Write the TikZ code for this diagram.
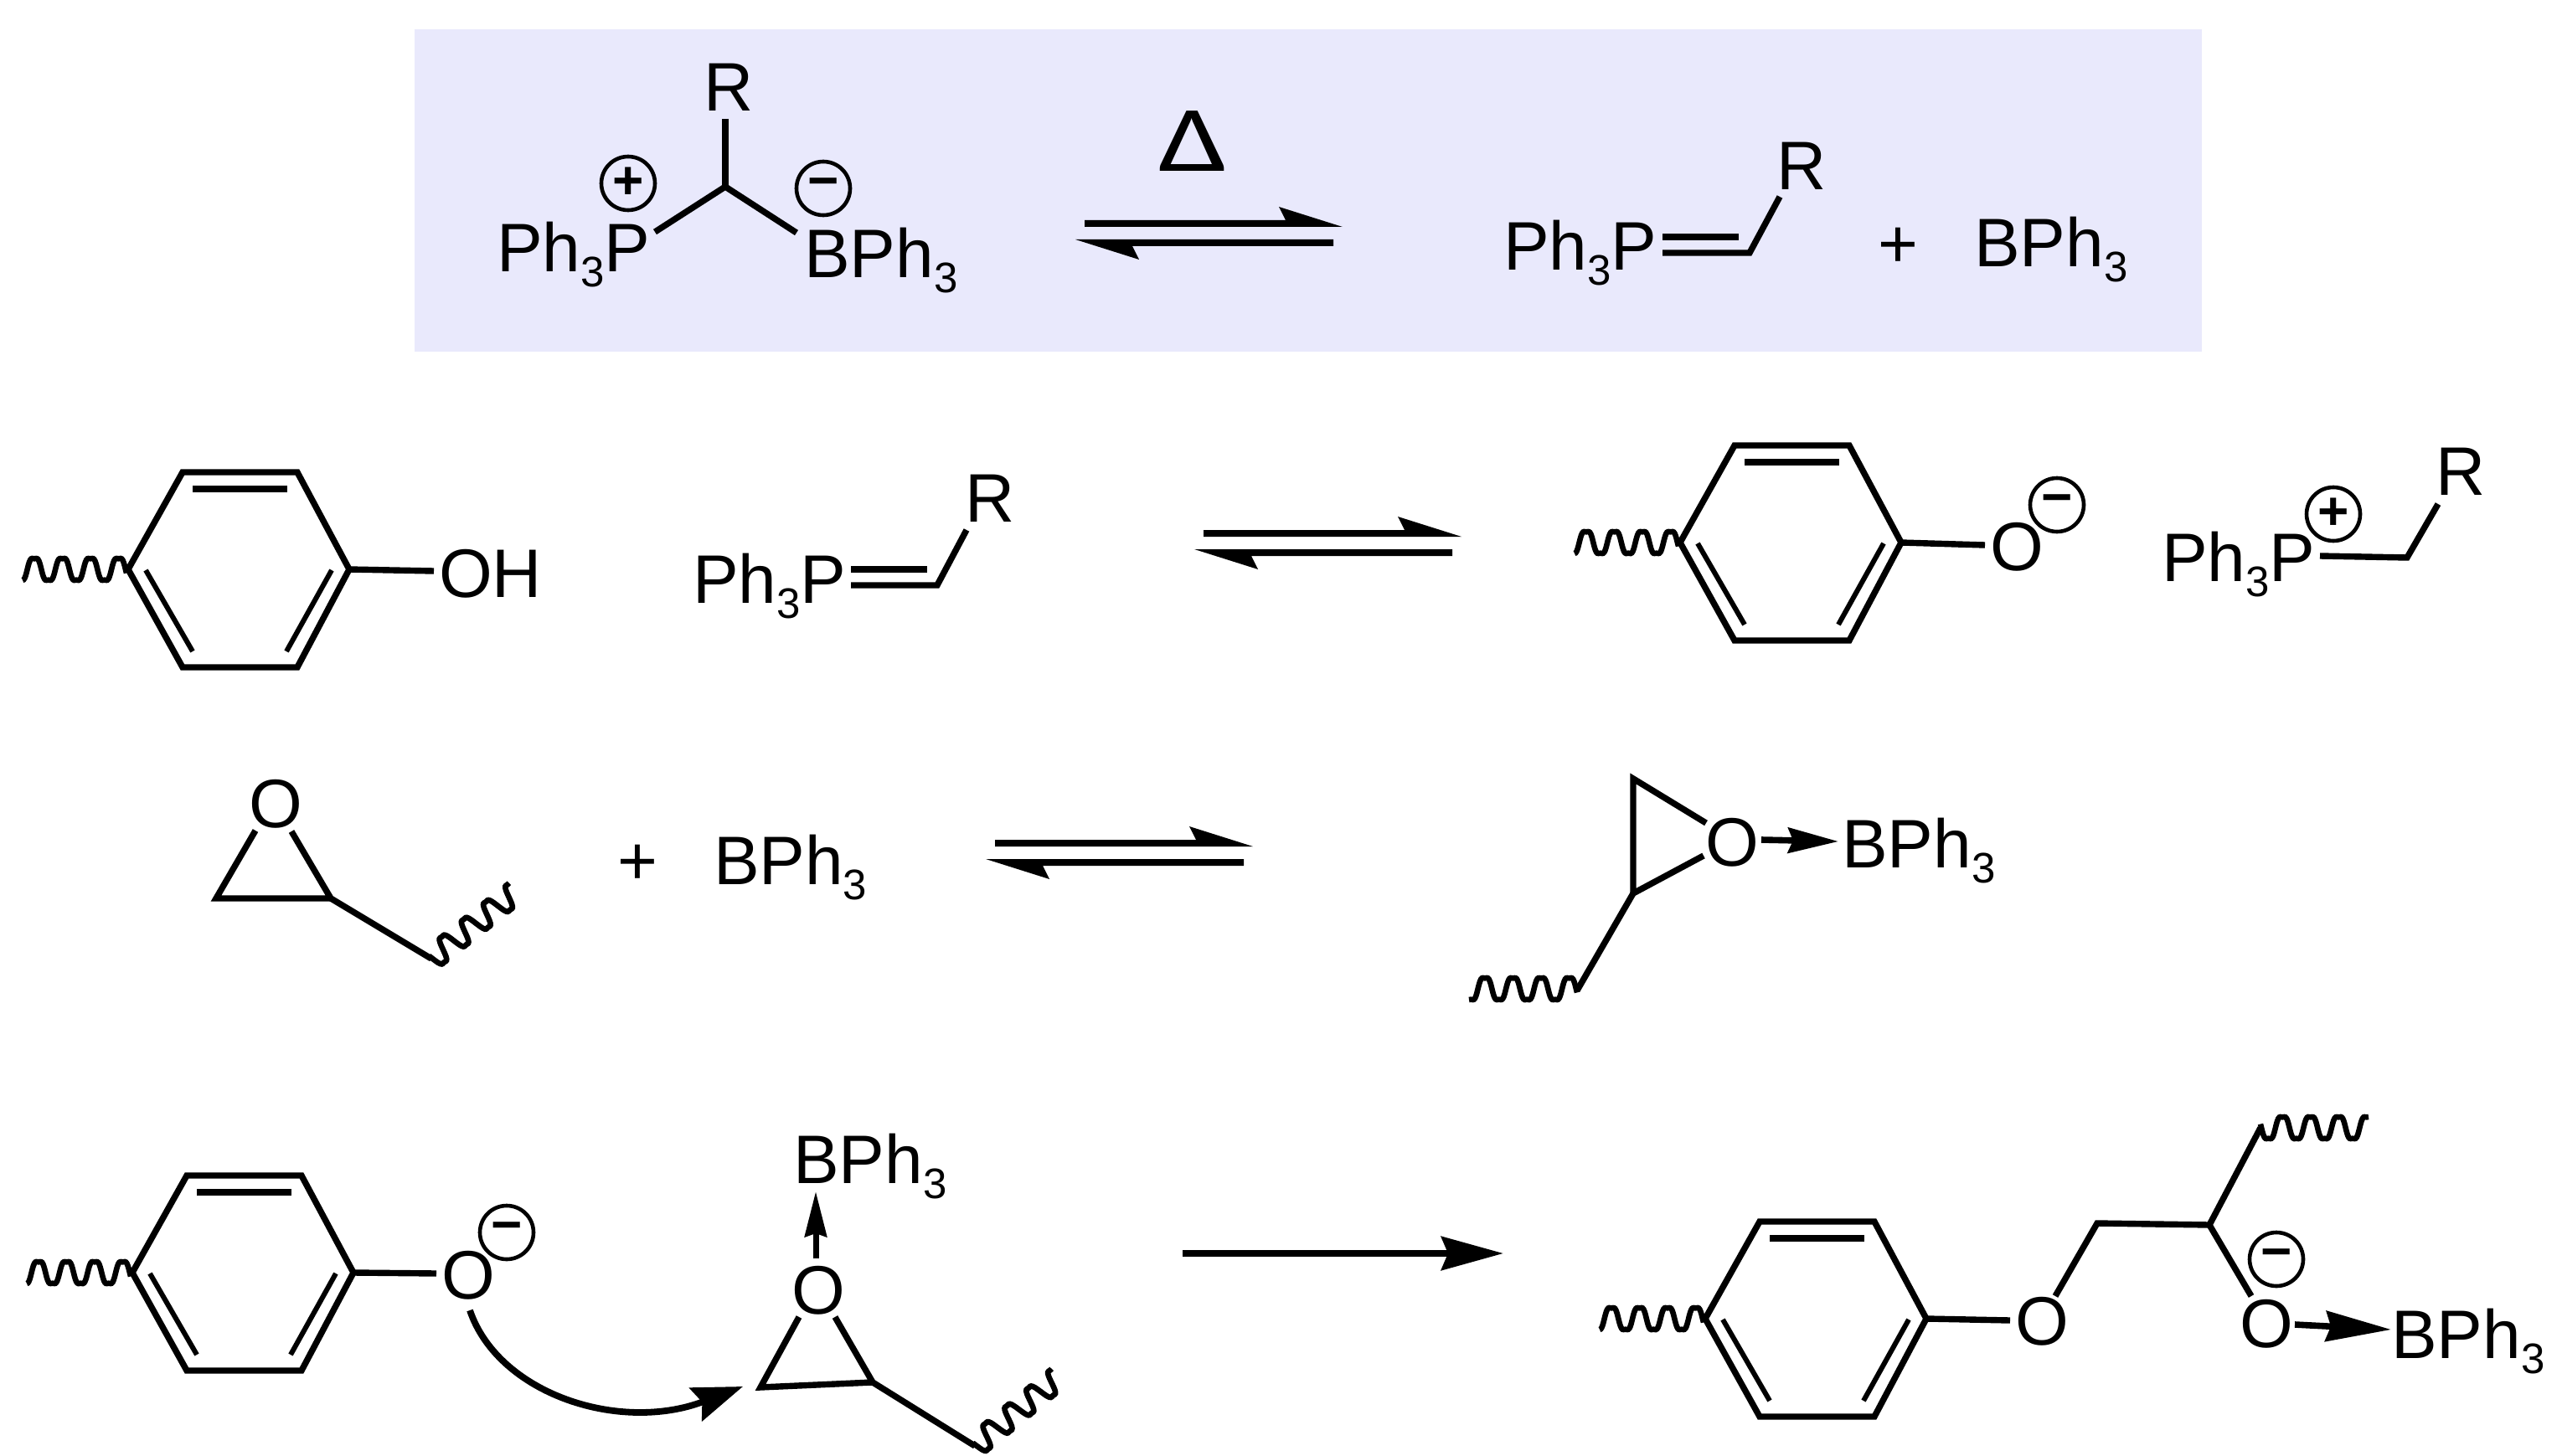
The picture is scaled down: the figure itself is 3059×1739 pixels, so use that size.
\documentclass[tikz,border=0pt]{standalone}
\usepackage{fontspec}
\setmainfont{Liberation Sans}
\usetikzlibrary{arrows.meta}
\newfontfamily\deltafont{Carlito}
\newcommand{\tri}{\raisebox{-9pt}{\fontsize{25.5}{25.5}\selectfont 3}}
\newcommand{\chgplus}{\raisebox{-0.09em}{+}}
\newcommand{\chgminus}{\raisebox{-0.02em}{\char"2212}}
\definecolor{panel}{HTML}{E9E9FC}
\tikzset{
  x=0.5pt,y=-0.5pt,
  bond/.style={draw=black,line width=3.7pt,line join=miter,miter limit=6,line cap=butt},
  atom/.style={inner sep=0pt,outer sep=0pt,anchor=base west,font=\fontsize{41}{48}\selectfont},
  chg/.style={circle,draw=black,line width=2.3pt,inner sep=0pt,minimum size=32pt,font=\fontsize{32}{32}\selectfont\bfseries},
  dative/.style={draw=black,line width=3.8pt,-{Stealth[length=#1pt,width=15pt,inset=3pt]}},
  wavy/.pic={\draw[bond,line width=3.3pt] plot[domain=0:124,samples=110,smooth] (\x,{-15*(sin(10.746*(\x-14)+90)+0.15*sin(32.238*(\x-14)+270))});},
  wavylong/.pic={\draw[bond,line width=3.3pt] plot[domain=-5:124,samples=110,smooth] (\x,{-15*(sin(10.746*(\x-14)+90)+0.15*sin(32.238*(\x-14)+270))});},
  aryl/.pic={
    \draw[bond] (0,0) -- (65,-116) -- (202,-116) -- (264,0) -- (202,117) -- (65,117) -- cycle;
    \draw[bond] (77,-96) -- (190,-96);
    \draw[bond,line width=3pt] (21,1) -- (77,98);
    \draw[bond,line width=3pt] (243,1) -- (189,98);
    \pic at (-126,0) {wavy};
  },
  eqm/.pic={
    \fill[black] (0,0) -- (240,0) -- (232,-16) -- (308,8) -- (0,8) -- cycle;
    \fill[black] (297,23) -- (-11,23) -- (65,47) -- (57,31) -- (297,31) -- cycle;
  }
}
\begin{document}
\begin{tikzpicture}
\useasboundingbox (0,0) rectangle (3059,1739);
\fill[panel] (495,35) rectangle (2629,420);

% ---- top panel, left
\node[atom] (a1P) at (593,325) {Ph\tri P};
\node[atom] (a1R) at (840,133) {R};
\node[atom] (a1B) at (960,332) {BPh\tri};
\node[chg] (q1p) at (750,219) {\chgplus};
\node[chg] (q1m) at (983,225) {\chgminus};
\coordinate (c1) at (866,223);
\coordinate (c1r) at (866,142);
\coordinate (c1p) at (782,277);
\coordinate (c1b) at (951,278);
\draw[bond] (c1r) -- (c1);
\draw[bond] (c1p) -- (c1) -- (c1b);
\node[inner sep=0pt,anchor=base,font=\fontsize{56}{56}\selectfont\deltafont] (delta) at (1425,205) {\scalebox{1.3}[1]{Δ}};
\pic at (1295,263) {eqm};

% ---- top panel, right
\node[atom] (a2P) at (1795,323) {Ph\tri P};
\node[atom] (a2R) at (2121,227) {R};
\node[atom,anchor=base] (a2plus) at (2266,320) {+};
\node[atom] (a2B) at (2357,319) {BPh\tri};
\coordinate (d2a) at (1985,283);
\coordinate (d2b) at (2076,283);
\coordinate (d2c) at (1985,302);
\coordinate (d2d) at (2089,302);
\coordinate (d2e) at (2125,235);
\draw[bond] (d2a) -- (d2b);
\draw[bond] (d2c) -- (d2d) -- (d2e);

% ---- row 2
\pic at (153,680) {aryl};
\node[atom] (a3O) at (524,713) {OH};
\coordinate (r3) at (417,680);
\coordinate (r3o) at (518,682);
\draw[bond] (r3) -- (r3o);
\node[atom] (a3P) at (827,720) {Ph\tri P};
\node[atom] (a3R) at (1152,623) {R};
\coordinate (d3a) at (1016,680);
\coordinate (d3b) at (1107,680);
\coordinate (d3c) at (1016,699);
\coordinate (d3d) at (1119,699);
\coordinate (d3e) at (1154,633);
\draw[bond] (d3a) -- (d3b);
\draw[bond] (d3c) -- (d3d) -- (d3e);
\pic at (1437,633) {eqm};
\pic at (2006,648) {aryl};
\node[atom] (a4O) at (2376,681) {O};
\node[chg] (q4m) at (2456,603) {\chgminus};
\coordinate (r4) at (2270,648);
\coordinate (r4o) at (2370,651);
\draw[bond] (r4) -- (r4o);
\node[atom] (a4P) at (2581,694) {Ph\tri P};
\node[chg] (q4p) at (2786,614) {\chgplus};
\node[atom] (a4R) at (2908,591) {R};
\coordinate (b4a) at (2770,664);
\coordinate (b4b) at (2874,666);
\coordinate (b4c) at (2911,602);
\draw[bond] (b4a) -- (b4b) -- (b4c);

% ---- row 3
\node[atom] (a5O) at (297,988) {O};
\coordinate (e5a) at (305,992);
\coordinate (e5b) at (258,1073);
\coordinate (e5c) at (395,1073);
\coordinate (e5d) at (348,993);
\coordinate (e5e) at (515,1145);
\draw[bond] (e5a) -- (e5b) -- (e5c) -- (e5d);
\draw[bond] (e5c) -- (e5e);
\pic[rotate=218.5] at (612,1068) {wavylong};
\node[atom,anchor=base] (a5plus) at (761,1056) {+};
\node[atom] (a5B) at (852,1056) {BPh\tri};
\pic at (1188,1003) {eqm};

\node[atom] (a6O) at (2036,1034) {O};
\node[atom] (a6B) at (2199,1036) {BPh\tri};
\coordinate (e6a) at (2037,983);
\coordinate (e6b) at (1950,930);
\coordinate (e6c) at (1950,1067);
\coordinate (e6d) at (2034,1022);
\coordinate (e6e) at (1883,1183);
\draw[bond] (e6a) -- (e6b) -- (e6c) -- (e6d);
\draw[bond] (e6c) -- (e6e);
\pic at (1759,1181) {wavylong};
\coordinate (da6a) at (2103,1003);
\coordinate (da6b) at (2195,1005);
\draw[dative=30] (da6a) -- (da6b);

% ---- row 4, left
\pic at (158,1520) {aryl};
\node[atom] (a7O) at (527,1551) {O};
\node[chg] (q7m) at (605,1472) {\chgminus};
\coordinate (r7) at (422,1520);
\coordinate (r7o) at (521,1521);
\draw[bond] (r7) -- (r7o);
\coordinate (cv1) at (561,1565);
\coordinate (cv2) at (887,1656);
\draw[draw=black,line width=3.9pt,-{Stealth[length=30pt,width=21pt,inset=4pt]}] (cv1) .. controls (595,1665) and (740,1712) .. (cv2);
\node[atom] (a8O) at (945,1569) {O};
\node[atom] (a8B) at (947,1413) {BPh\tri};
\coordinate (e8a) at (954,1573);
\coordinate (e8b) at (908,1657);
\coordinate (e8c) at (1042,1651);
\coordinate (e8d) at (997,1573);
\coordinate (e8e) at (1164,1727);
\draw[bond] (e8a) -- (e8b) -- (e8c) -- (e8d);
\draw[bond] (e8c) -- (e8e);
\pic[rotate=219.5] at (1260,1648) {wavylong};
\coordinate (da8a) at (974,1503);
\coordinate (da8b) at (974,1423);
\draw[draw=black,line width=3.5pt,-{Stealth[length=27pt,width=13pt,inset=2pt]}] (da8a) -- (da8b);

% ---- row 4, arrow
\coordinate (fw1) at (1412,1497);
\coordinate (fw2) at (1795,1497);
\draw[draw=black,line width=4pt,-{Stealth[length=37pt,width=20pt,inset=4pt]}] (fw1) -- (fw2);

% ---- row 4, right
\pic at (2036,1575) {aryl};
\node[atom] (a9O) at (2406,1606) {O};
\node[atom] (a10O) at (2674,1609) {O};
\node[chg] (q10m) at (2718,1504) {\chgminus};
\node[atom] (a10B) at (2855,1622) {BPh\tri};
\coordinate (r9) at (2300,1575);
\coordinate (r9o) at (2400,1577);
\draw[bond] (r9) -- (r9o);
\coordinate (f1) at (2454,1548);
\coordinate (f2) at (2504,1461);
\coordinate (f3) at (2638,1463);
\coordinate (f4) at (2699,1347);
\coordinate (f5) at (2688,1548);
\draw[bond] (f1) -- (f2) -- (f3) -- (f4);
\draw[bond] (f3) -- (f5);
\pic[rotate=180] at (2823,1347) {wavylong};
\coordinate (da10a) at (2740,1582);
\coordinate (da10b) at (2855,1588);
\draw[draw=black,line width=3.8pt,-{Stealth[length=39pt,width=18pt,inset=3pt]}] (da10a) -- (da10b);
\end{tikzpicture}
\end{document}
